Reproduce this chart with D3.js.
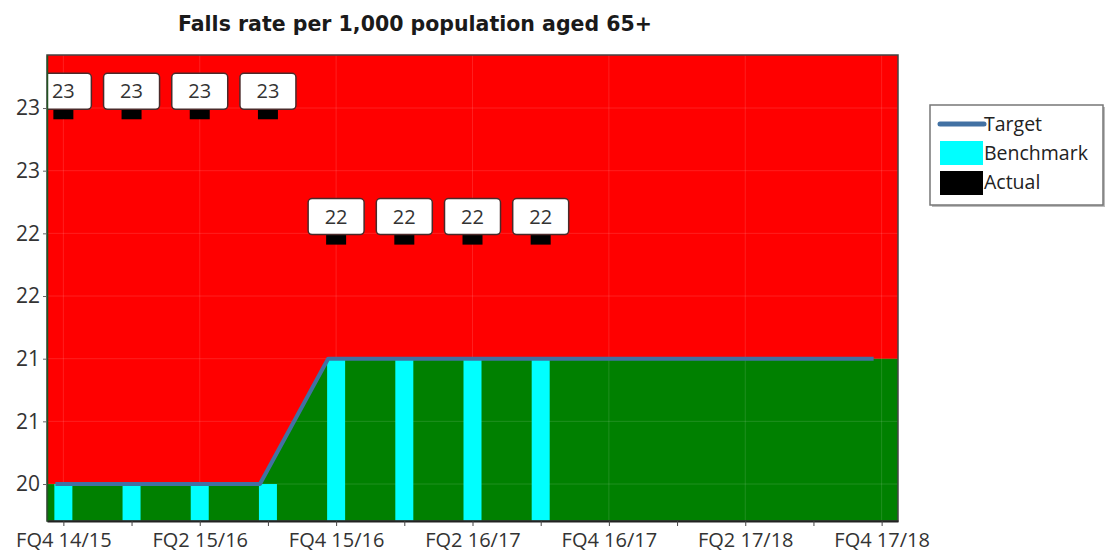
<!DOCTYPE html>
<html>
<head>
<meta charset="utf-8">
<script src="https://cdn.jsdelivr.net/npm/d3@7"></script>
<style>
	body { margin: 0; background: #fff; }
	svg { font-family: "Open Sans", "DejaVu Sans", sans-serif; }
	.tick text { fill: #333; }
	.legend text { font-size: 19.5px; fill: #222; }
</style>
</head>
<body>
<svg id="chart" width="1112" height="555"></svg>
<script>
var categories = ["FQ4 14/15", "FQ1 15/16", "FQ2 15/16", "FQ3 15/16", "FQ4 15/16", "FQ1 16/17", "FQ2 16/17",
	"FQ3 16/17", "FQ4 16/17", "FQ1 17/18", "FQ2 17/18", "FQ3 17/18", "FQ4 17/18"];
var target = [20, 20, 20, 20, 21, 21, 21, 21, 21, 21, 21, 21, 21];
var benchmark = [20, 20, 20, 20, 21, 21, 21, 21];
var actual = [22.95, 22.95, 22.95, 22.95, 21.95, 21.95, 21.95, 21.95];
var yTicks = [20, 20.5, 21, 21.5, 22, 22.5, 23];
var xLabels = ["FQ4 14/15", "FQ2 15/16", "FQ4 15/16", "FQ2 16/17", "FQ4 16/17", "FQ2 17/18", "FQ4 17/18"];
var legendItems = ["Target", "Benchmark", "Actual"];
var title = "Falls rate per 1,000 population aged 65+";

var svg = d3.select("#chart"),
	pLeft = 47,
	pRight = 898,
	pTop = 55,
	pBottom = 521,
	barW = 18,
	lineShift = -8,
	markW = 20,
	markH = 10,
	boxW = 56,
	boxH = 36;

var x = d3.scalePoint()
	.domain(categories)
	.range([pLeft, pRight])
	.padding(0.24);

var y = d3.scaleLinear()
	.domain([19.705, 23.423])
	.range([pBottom, pTop]);

svg.append("defs")
.append("clipPath")
.attr("id", "plotClip")
.append("rect")
.attr("x", pLeft)
.attr("y", pTop)
.attr("width", pRight - pLeft)
.attr("height", pBottom - pTop);

// title
svg.append("text")
.attr("x", 415)
.attr("y", 31)
.attr("text-anchor", "middle")
.style("font-family", "'DejaVu Sans', Verdana, sans-serif")
.style("font-size", "20.5px")
.style("font-weight", "bold")
.style("fill", "#1a1a1a")
.text(title);

var plotG = svg.append("g")
.attr("clip-path", "url(#plotClip)");

// red background
plotG.append("rect")
.attr("x", pLeft)
.attr("y", pTop)
.attr("width", pRight - pLeft)
.attr("height", pBottom - pTop)
.attr("fill", "#ff0000");

// green area below target, stretched to the plot edges
var areaPts = [[pLeft, target[0]]]
	.concat(target.map(function (d, i) { return [x(categories[i]) + lineShift, d]; }))
	.concat([[pRight, target[target.length - 1]]]);

plotG.append("path")
.datum(areaPts)
.attr("fill", "#008000")
.attr("d", d3.area()
	.x(function (d) { return d[0]; })
	.y0(pBottom)
	.y1(function (d) { return y(d[1]); }));

// faint grid
plotG.append("g")
.selectAll("line")
.data(yTicks)
.enter()
.append("line")
.attr("x1", pLeft)
.attr("x2", pRight)
.attr("y1", function (d) { return y(d); })
.attr("y2", function (d) { return y(d); })
.attr("stroke", "rgba(255,255,255,0.12)")
.attr("stroke-width", 1);

plotG.append("g")
.selectAll("line")
.data(xLabels)
.enter()
.append("line")
.attr("x1", function (d) { return x(d); })
.attr("x2", function (d) { return x(d); })
.attr("y1", pTop)
.attr("y2", pBottom)
.attr("stroke", "rgba(255,255,255,0.12)")
.attr("stroke-width", 1);

// benchmark bars
plotG.append("g")
.selectAll("rect")
.data(benchmark)
.enter()
.append("rect")
.attr("x", function (d, i) { return x(categories[i]) - barW / 2; })
.attr("y", function (d) { return y(d); })
.attr("width", barW)
.attr("height", function (d) { return pBottom - y(d); })
.attr("fill", "#00ffff");

// target line
plotG.append("path")
.datum(target)
.attr("fill", "none")
.attr("stroke", "#4271a3")
.attr("stroke-width", 4)
.attr("stroke-linejoin", "round")
.attr("d", d3.line()
	.x(function (d, i) { return x(categories[i]) + lineShift; })
	.y(function (d) { return y(d); }));

// actual markers and labels
var actG = plotG.append("g")
.selectAll("g")
.data(actual)
.enter()
.append("g")
.attr("transform", function (d, i) {
	return "translate(" + x(categories[i]) + "," + y(d) + ")";
});

actG.append("rect")
.attr("x", -markW / 2)
.attr("y", -markH / 2)
.attr("width", markW)
.attr("height", markH)
.attr("fill", "#000");

actG.append("rect")
.attr("x", -boxW / 2)
.attr("y", -markH / 2 - boxH)
.attr("width", boxW)
.attr("height", boxH)
.attr("rx", 4)
.attr("ry", 4)
.attr("fill", "#fff")
.attr("stroke", "#4a2a2a")
.attr("stroke-width", 1.5);

actG.append("text")
.attr("x", 0)
.attr("y", -markH / 2 - boxH / 2)
.attr("dy", "0.36em")
.attr("text-anchor", "middle")
.style("font-size", "20px")
.style("fill", "#333")
.text(function (d) { return d3.format(".0f")(d); });

// plot frame
svg.append("rect")
.attr("x", pLeft)
.attr("y", pTop)
.attr("width", pRight - pLeft)
.attr("height", pBottom - pTop)
.attr("fill", "none")
.attr("stroke", "#444")
.attr("stroke-width", 1.5);

// axes
var xAxis = d3.axisBottom(x)
	.tickSizeInner(5)
	.tickSizeOuter(0)
	.tickFormat(function (d) { return xLabels.indexOf(d) >= 0 ? d : ""; });

svg.append("g")
.attr("transform", "translate(0," + pBottom + ")")
.call(xAxis)
.call(function (g) {
	g.select(".domain").attr("stroke", "#222").attr("stroke-width", 2);
	g.selectAll(".tick line").attr("stroke", "#444");
	g.selectAll(".tick text").attr("dy", "0.92em").style("font-size", "20px");
});

var yAxis = d3.axisLeft(y)
	.tickValues(yTicks)
	.tickSizeInner(4)
	.tickSizeOuter(0)
	.tickFormat(d3.format(".0f"));

svg.append("g")
.attr("transform", "translate(" + pLeft + ",0)")
.call(yAxis)
.call(function (g) {
	g.select(".domain").attr("stroke", "#225522").attr("stroke-width", 1.5);
	g.selectAll(".tick line").attr("stroke", "#666");
	g.selectAll(".tick text").style("font-size", "21px");
});
svg.selectAll("g[font-family]").attr("font-family", null).attr("font-size", null);

// legend
var legend = svg.append("g")
.attr("class", "legend")
.attr("transform", "translate(930,105)");

legend.append("rect")
.attr("x", 2)
.attr("y", 2)
.attr("width", 173)
.attr("height", 100)
.attr("fill", "#bbb");

legend.append("rect")
.attr("width", 173)
.attr("height", 100)
.attr("fill", "#fff")
.attr("stroke", "#777")
.attr("stroke-width", 1.5);

legend.append("line")
.attr("x1", 10)
.attr("x2", 54)
.attr("y1", 19)
.attr("y2", 19)
.attr("stroke", "#4271a3")
.attr("stroke-width", 5)
.attr("stroke-linecap", "round");

legend.append("rect")
.attr("x", 10)
.attr("y", 36)
.attr("width", 43)
.attr("height", 24)
.attr("fill", "#00ffff");

legend.append("rect")
.attr("x", 10)
.attr("y", 66)
.attr("width", 43)
.attr("height", 24)
.attr("fill", "#000");

legend.selectAll("text")
.data(legendItems)
.enter()
.append("text")
.attr("x", 54)
.attr("y", function (d, i) { return 19 + i * 29; })
.attr("dy", "0.35em")
.text(function (d) { return d; });
</script>
</body>
</html>
